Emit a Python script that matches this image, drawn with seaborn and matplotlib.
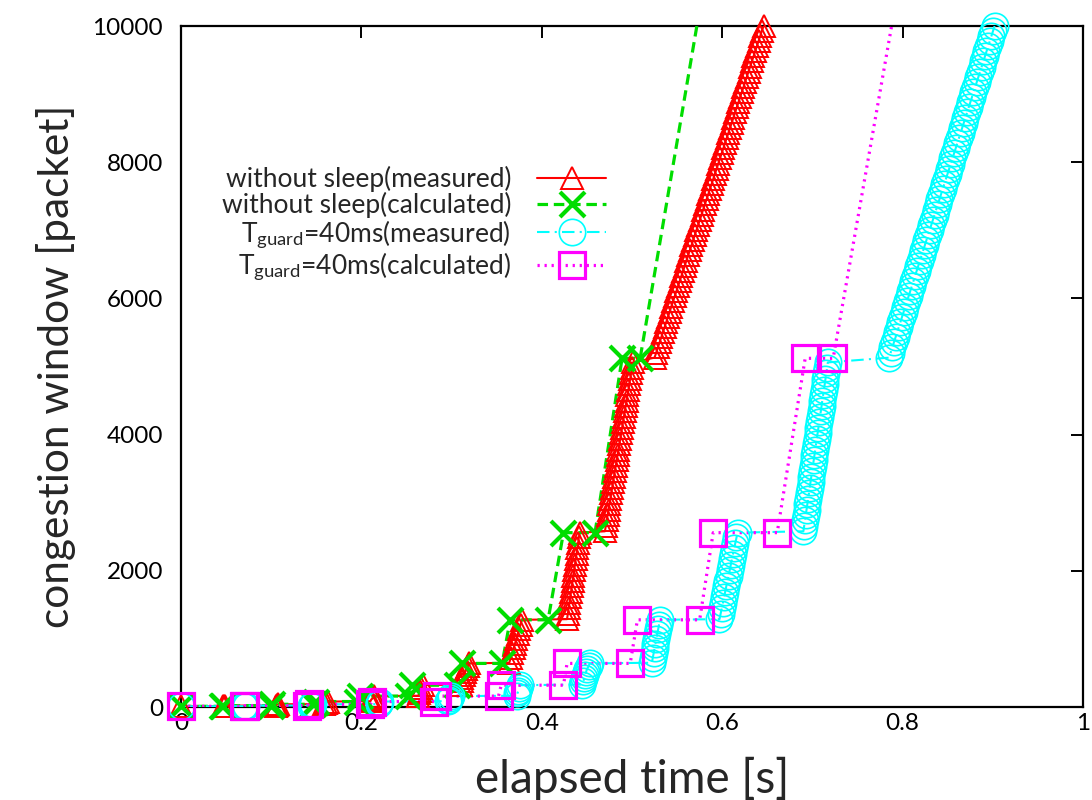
import numpy as np
import matplotlib
matplotlib.use("Agg")
import matplotlib.pyplot as plt
import seaborn as sns
from matplotlib.lines import Line2D

# ---------------- data ----------------
series_labels = [
    "without sleep(measured)",
    "without sleep(calculated)",
    r"T$_{\mathregular{guard}}$=40ms(measured)",
    r"T$_{\mathregular{guard}}$=40ms(calculated)",
]

x_ticks = [0, 0.2, 0.4, 0.6, 0.8, 1]
x_tick_labels = ["0", "0.2", "0.4", "0.6", "0.8", "1"]
y_ticks = [0, 2000, 4000, 6000, 8000, 10000]
y_tick_labels = ["0", "2000", "4000", "6000", "8000", "10000"]

# without sleep, measured (elapsed time [s], cwnd [packet])
meas_ns_t = [
    0.000,
    0.047, 0.048, 0.049,
    0.105, 0.106, 0.107,
    0.159, 0.161, 0.163,
    0.210, 0.211, 0.213, 0.214,
    0.263, 0.264, 0.265, 0.266, 0.268,
    0.310, 0.311, 0.312, 0.314, 0.315, 0.316, 0.318, 0.319,
    0.3640, 0.3656, 0.3671, 0.3687, 0.3702, 0.3718, 0.3733, 0.3749, 0.3764, 0.3780,
    0.4280, 0.4289, 0.4298, 0.4306, 0.4315, 0.4324, 0.4333, 0.4341, 0.4350, 0.4359,
    0.4368, 0.4376, 0.4385, 0.4394, 0.4403, 0.4411, 0.4420,
    0.470, 0.471, 0.472, 0.473, 0.474, 0.475, 0.476, 0.477, 0.478, 0.479, 0.480,
    0.481, 0.482, 0.483, 0.484, 0.485, 0.486, 0.487, 0.488, 0.489, 0.490, 0.491,
    0.492, 0.493, 0.494, 0.495, 0.496, 0.497, 0.498, 0.499, 0.500, 0.501,
    0.5250, 0.5269, 0.5287, 0.5306, 0.5324, 0.5343, 0.5362, 0.5380, 0.5399, 0.5417,
    0.5436, 0.5455, 0.5473, 0.5492, 0.5510, 0.5529, 0.5548, 0.5566, 0.5585, 0.5603,
    0.5622, 0.5641, 0.5659, 0.5678, 0.5696, 0.5715, 0.5734, 0.5752, 0.5771, 0.5789,
    0.5808, 0.5827, 0.5845, 0.5864, 0.5882, 0.5901, 0.5920, 0.5938, 0.5957, 0.5975,
    0.5994, 0.6013, 0.6031, 0.6050, 0.6068, 0.6087, 0.6106, 0.6124, 0.6143, 0.6161,
    0.6180, 0.6199, 0.6217, 0.6236, 0.6254, 0.6273, 0.6292, 0.6310, 0.6329, 0.6347,
    0.6366, 0.6385, 0.6403, 0.6422, 0.6440, 0.6459,
]
meas_ns_w = [
    10,
    12, 16, 20,
    22, 30, 40,
    42, 60, 80,
    85, 110, 135, 160,
    165, 200, 240, 280, 320,
    330, 375, 420, 465, 510, 555, 600, 640,
    650, 720, 790, 860, 930, 1000, 1070, 1140, 1210, 1280,
    1290, 1370, 1450, 1530, 1610, 1690, 1770, 1850, 1930, 2010,
    2090, 2170, 2250, 2330, 2410, 2490, 2560,
    2580, 2660, 2740, 2820, 2900, 2980, 3060, 3140, 3220, 3300, 3380,
    3460, 3540, 3620, 3700, 3780, 3860, 3940, 4020, 4100, 4180, 4260,
    4340, 4420, 4500, 4580, 4660, 4740, 4820, 4900, 4980, 5060,
    5130, 5205, 5280, 5355, 5430, 5505, 5580, 5655, 5730, 5805,
    5880, 5955, 6030, 6105, 6180, 6255, 6330, 6405, 6480, 6555,
    6630, 6705, 6780, 6855, 6930, 7005, 7080, 7155, 7230, 7305,
    7380, 7455, 7530, 7605, 7680, 7755, 7830, 7905, 7980, 8055,
    8130, 8205, 8280, 8355, 8430, 8505, 8580, 8655, 8730, 8805,
    8880, 8955, 9030, 9105, 9180, 9255, 9330, 9405, 9480, 9555,
    9630, 9705, 9780, 9855, 9930, 10000,
]

# without sleep, calculated
calc_ns_t = [0.000, 0.046, 0.047, 0.100, 0.101, 0.146, 0.150, 0.195, 0.198, 0.252,
             0.256, 0.306, 0.311, 0.356, 0.365, 0.407, 0.424, 0.459, 0.489, 0.509, 0.575]
calc_ns_w = [10, 10, 20, 20, 40, 40, 80, 80, 160, 160,
             320, 320, 640, 640, 1280, 1280, 2560, 2560, 5120, 5120, 10240]

# T_guard = 40 ms, measured
meas_g_t = [
    0.000,
    0.070, 0.071, 0.072,
    0.144, 0.145, 0.146,
    0.219, 0.220, 0.221,
    0.296, 0.297, 0.298, 0.299,
    0.372, 0.373, 0.374, 0.375, 0.376,
    0.445, 0.446, 0.447, 0.448, 0.449, 0.450, 0.452, 0.453,
    0.522, 0.523, 0.524, 0.525, 0.526, 0.527, 0.528, 0.529, 0.530, 0.531,
    0.5970, 0.5983, 0.5995, 0.6008, 0.6020, 0.6033, 0.6045, 0.6058, 0.6070, 0.6083,
    0.6095, 0.6108, 0.6120, 0.6133, 0.6145, 0.6158, 0.6170,
    0.6900, 0.6909, 0.6918, 0.6926, 0.6935, 0.6944, 0.6953, 0.6961, 0.6970, 0.6979,
    0.6988, 0.6996, 0.7005, 0.7014, 0.7023, 0.7031, 0.7040, 0.7049, 0.7058, 0.7066,
    0.7075, 0.7084, 0.7093, 0.7101, 0.7110, 0.7119, 0.7128, 0.7136, 0.7145, 0.7154,
    0.7163, 0.7171,
    0.7850, 0.7868, 0.7886, 0.7904, 0.7922, 0.7940, 0.7958, 0.7976, 0.7994, 0.8012,
    0.8030, 0.8048, 0.8066, 0.8084, 0.8102, 0.8120, 0.8138, 0.8156, 0.8174, 0.8192,
    0.8210, 0.8228, 0.8246, 0.8264, 0.8282, 0.8300, 0.8318, 0.8336, 0.8354, 0.8372,
    0.8390, 0.8408, 0.8426, 0.8444, 0.8462, 0.8480, 0.8498, 0.8516, 0.8534, 0.8552,
    0.8570, 0.8588, 0.8606, 0.8624, 0.8642, 0.8660, 0.8678, 0.8696, 0.8714, 0.8732,
    0.8750, 0.8768, 0.8786, 0.8804, 0.8822, 0.8840, 0.8858, 0.8876, 0.8894, 0.8912,
    0.8930, 0.8948, 0.8966, 0.8984, 0.9002, 0.9020,
]
meas_g_w = [
    10,
    12, 16, 20,
    22, 30, 40,
    42, 60, 80,
    85, 110, 135, 160,
    165, 200, 240, 280, 320,
    330, 375, 420, 465, 510, 555, 600, 640,
    650, 720, 790, 860, 930, 1000, 1070, 1140, 1210, 1280,
    1290, 1370, 1450, 1530, 1610, 1690, 1770, 1850, 1930, 2010,
    2090, 2170, 2250, 2330, 2410, 2490, 2560,
    2580, 2660, 2740, 2820, 2900, 2980, 3060, 3140, 3220, 3300,
    3380, 3460, 3540, 3620, 3700, 3780, 3860, 3940, 4020, 4100,
    4180, 4260, 4340, 4420, 4500, 4580, 4660, 4740, 4820, 4900,
    4980, 5060,
    5130, 5205, 5280, 5355, 5430, 5505, 5580, 5655, 5730, 5805,
    5880, 5955, 6030, 6105, 6180, 6255, 6330, 6405, 6480, 6555,
    6630, 6705, 6780, 6855, 6930, 7005, 7080, 7155, 7230, 7305,
    7380, 7455, 7530, 7605, 7680, 7755, 7830, 7905, 7980, 8055,
    8130, 8205, 8280, 8355, 8430, 8505, 8580, 8655, 8730, 8805,
    8880, 8955, 9030, 9105, 9180, 9255, 9330, 9405, 9480, 9555,
    9630, 9705, 9780, 9855, 9930, 10000,
]

# T_guard = 40 ms, calculated
calc_g_t = [0.000, 0.070, 0.071, 0.140, 0.142, 0.210, 0.212, 0.281, 0.284, 0.352,
            0.355, 0.424, 0.428, 0.498, 0.506, 0.575, 0.590, 0.661, 0.692, 0.723, 0.791]
calc_g_w = [10, 10, 20, 20, 40, 40, 80, 80, 160, 160,
            320, 320, 640, 640, 1280, 1280, 2560, 2560, 5120, 5120, 10240]

# ---------------- style ----------------
FONT = "Lato"
sns.set_style("white")
plt.rcParams["font.family"] = [FONT, "DejaVu Sans"]
plt.rcParams["mathtext.fontset"] = "custom"
plt.rcParams["mathtext.rm"] = FONT
plt.rcParams["mathtext.it"] = FONT + ":italic"
plt.rcParams["mathtext.bf"] = FONT + ":bold"

W, H = 1092, 800
fig = plt.figure(figsize=(W / 100, H / 100), dpi=100)
fig.patch.set_facecolor("white")
x0, x1, y0, y1 = 181, 1083, 26, 707
ax = fig.add_axes([x0 / W, 1 - y1 / H, (x1 - x0) / W, (y1 - y0) / H])
ax.set_facecolor("white")

styles = [
    dict(t=meas_ns_t, w=meas_ns_w, color="#ff0000", ls="-", lw=1.5,
         marker="^", ms=16, mew=1.4),
    dict(t=calc_ns_t, w=calc_ns_w, color="#00dd00", ls=(0, (3.3, 1.8)), lw=2.3,
         marker="x", ms=18, mew=3.0),
    dict(t=meas_g_t, w=meas_g_w, color="#00ffff", ls=(0, (6, 2.5, 1, 2.5)), lw=1.5,
         marker="o", ms=19, mew=1.2),
    dict(t=calc_g_t, w=calc_g_w, color="#ff00ff", ls=(0, (0.7, 1.5)), lw=2.3,
         marker="s", ms=19, mew=2.3),
]

handles = []
for st, lab in zip(styles, series_labels):
    t = np.asarray(st["t"], float)
    w = np.asarray(st["w"], float)
    # connecting line (clipped to axes)
    sns.lineplot(x=t, y=w, ax=ax, sort=False, estimator=None, color=st["color"],
                 linestyle=st["ls"], linewidth=st["lw"], zorder=3)
    # point markers (drawn like gnuplot: not clipped at the frame)
    m = w <= 10000
    sns.lineplot(x=t[m], y=w[m], ax=ax, sort=False, estimator=None, color=st["color"],
                 linestyle="none", marker=st["marker"], markersize=st["ms"],
                 markeredgewidth=st["mew"], markeredgecolor=st["color"],
                 markerfacecolor="none", clip_on=False, zorder=4)
    handles.append(Line2D([], [], color=st["color"], linestyle=st["ls"],
                          linewidth=st["lw"], marker=st["marker"],
                          markersize=st["ms"], markeredgewidth=st["mew"],
                          markeredgecolor=st["color"], markerfacecolor="none"))

for ln in ax.lines:
    ln.set_markerfacecolor("none")

ax.set_xlim(0, 1)
ax.set_ylim(0, 10000)
ax.set_xticks(x_ticks)
ax.set_xticklabels(x_tick_labels)
ax.set_yticks(y_ticks)
ax.set_yticklabels(y_tick_labels)
ax.tick_params(direction="in", top=True, right=True, length=8.5, width=1.4,
               labelsize=17.5, colors="black")
ax.tick_params(axis="y", pad=13)
ax.tick_params(axis="x", pad=4)
for sp in ax.spines.values():
    sp.set_visible(True)
    sp.set_linewidth(1.6)
    sp.set_color("black")

ax.set_xlabel("elapsed time [s]", fontsize=33, labelpad=17)
ax.set_ylabel("congestion window [packet]", fontsize=30.5, labelpad=12)

leg = ax.legend(handles, series_labels, loc="upper right",
                bbox_to_anchor=((606 - x0) / (x1 - x0), (y1 - 166) / (y1 - y0)),
                frameon=False, markerfirst=False, fontsize=19, numpoints=1,
                handlelength=2.6, handletextpad=1.0, labelspacing=0.0,
                borderpad=0, borderaxespad=0)

fig.savefig("out.png", dpi=100, facecolor="white")
